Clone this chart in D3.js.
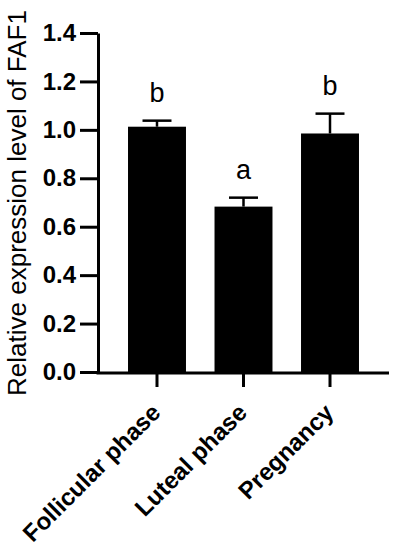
<!doctype html>
<html>
<head>
  <script src="https://d3js.org/d3.v7.min.js"></script>
  <style>
  body {
    margin: 0;
    background: #fff;
  }

  svg {
    font-family: "Liberation Sans", Arial, sans-serif;
  }

  .axis path,
  .axis line {
    stroke: #000;
    stroke-width: 3;
  }

  .axis text {
    font-size: 24px;
    font-weight: bold;
    fill: #000;
  }
</style>
</head>
<body>
  <script>
    // values
    var groups = ["Follicular phase", "Luteal phase", "Pregnancy"];
    var means = [1.013, 0.683, 0.985];
    var errors = [0.025, 0.037, 0.082];
    var letters = ["b", "a", "b"];
    var yTicks = [0.0, 0.2, 0.4, 0.6, 0.8, 1.0, 1.2, 1.4];

    var width = 395,
        height = 550;

    var x = d3.scaleBand()
        .domain(groups)
        .range([98, 389])
        .paddingInner(0.33)
        .paddingOuter(0.347);

    var y = d3.scaleLinear()
        .domain([0, 1.4])
        .range([372, 33]);

    var svg = d3.select("body").append("svg")
        .attr("width", width)
        .attr("height", height);

    // bars
    svg.selectAll(".bar")
        .data(groups)
      .enter().append("rect")
        .attr("class", "bar")
        .attr("x", function(d) { return x(d); })
        .attr("y", function(d, i) { return y(means[i]); })
        .attr("width", x.bandwidth())
        .attr("height", function(d, i) { return y(0) - y(means[i]); })
        .attr("fill", "#000");

    // error bars (upper half only, lower half hidden by the bar)
    var err = svg.selectAll(".err")
        .data(groups)
      .enter().append("g")
        .attr("class", "err")
        .attr("stroke", "#000")
        .attr("stroke-width", 2.5);

    err.append("line")
        .attr("x1", function(d) { return x(d) + x.bandwidth() / 2; })
        .attr("x2", function(d) { return x(d) + x.bandwidth() / 2; })
        .attr("y1", function(d, i) { return y(means[i]); })
        .attr("y2", function(d, i) { return y(means[i] + errors[i]); });

    err.append("line")
        .attr("x1", function(d) { return x(d) + x.bandwidth() / 4; })
        .attr("x2", function(d) { return x(d) + x.bandwidth() * 3 / 4; })
        .attr("y1", function(d, i) { return y(means[i] + errors[i]); })
        .attr("y2", function(d, i) { return y(means[i] + errors[i]); });

    // significance letters
    svg.selectAll(".letter")
        .data(groups)
      .enter().append("text")
        .attr("class", "letter")
        .attr("x", function(d) { return x(d) + x.bandwidth() / 2; })
        .attr("y", function(d, i) { return y(means[i] + errors[i]) - 19; })
        .attr("text-anchor", "middle")
        .style("font-size", "27px")
        .text(function(d, i) { return letters[i]; });

    // y axis
    svg.append("g")
        .attr("class", "axis")
        .attr("transform", "translate(98,0)")
        .call(d3.axisLeft(y)
            .tickValues(yTicks)
            .tickFormat(d3.format(".1f"))
            .tickSize(18)
            .tickSizeOuter(0)
            .tickPadding(4));

    // x axis
    var xAxis = svg.append("g")
        .attr("class", "axis")
        .attr("transform", "translate(0,373)")
        .call(d3.axisBottom(x)
            .tickSize(14)
            .tickSizeOuter(0));

    xAxis.select(".domain")
        .attr("d", "M96.5,0H389");

    xAxis.selectAll("text")
        .attr("text-anchor", "end")
        .attr("dy", null)
        .attr("y", 0)
        .attr("transform", "translate(5,41) rotate(-45)");

    // y axis title
    svg.append("text")
        .attr("transform", "translate(26,203) rotate(-90)")
        .attr("text-anchor", "middle")
        .style("font-size", "26px")
        .text("Relative expression level of FAF1");
  </script>
</body>
</html>
